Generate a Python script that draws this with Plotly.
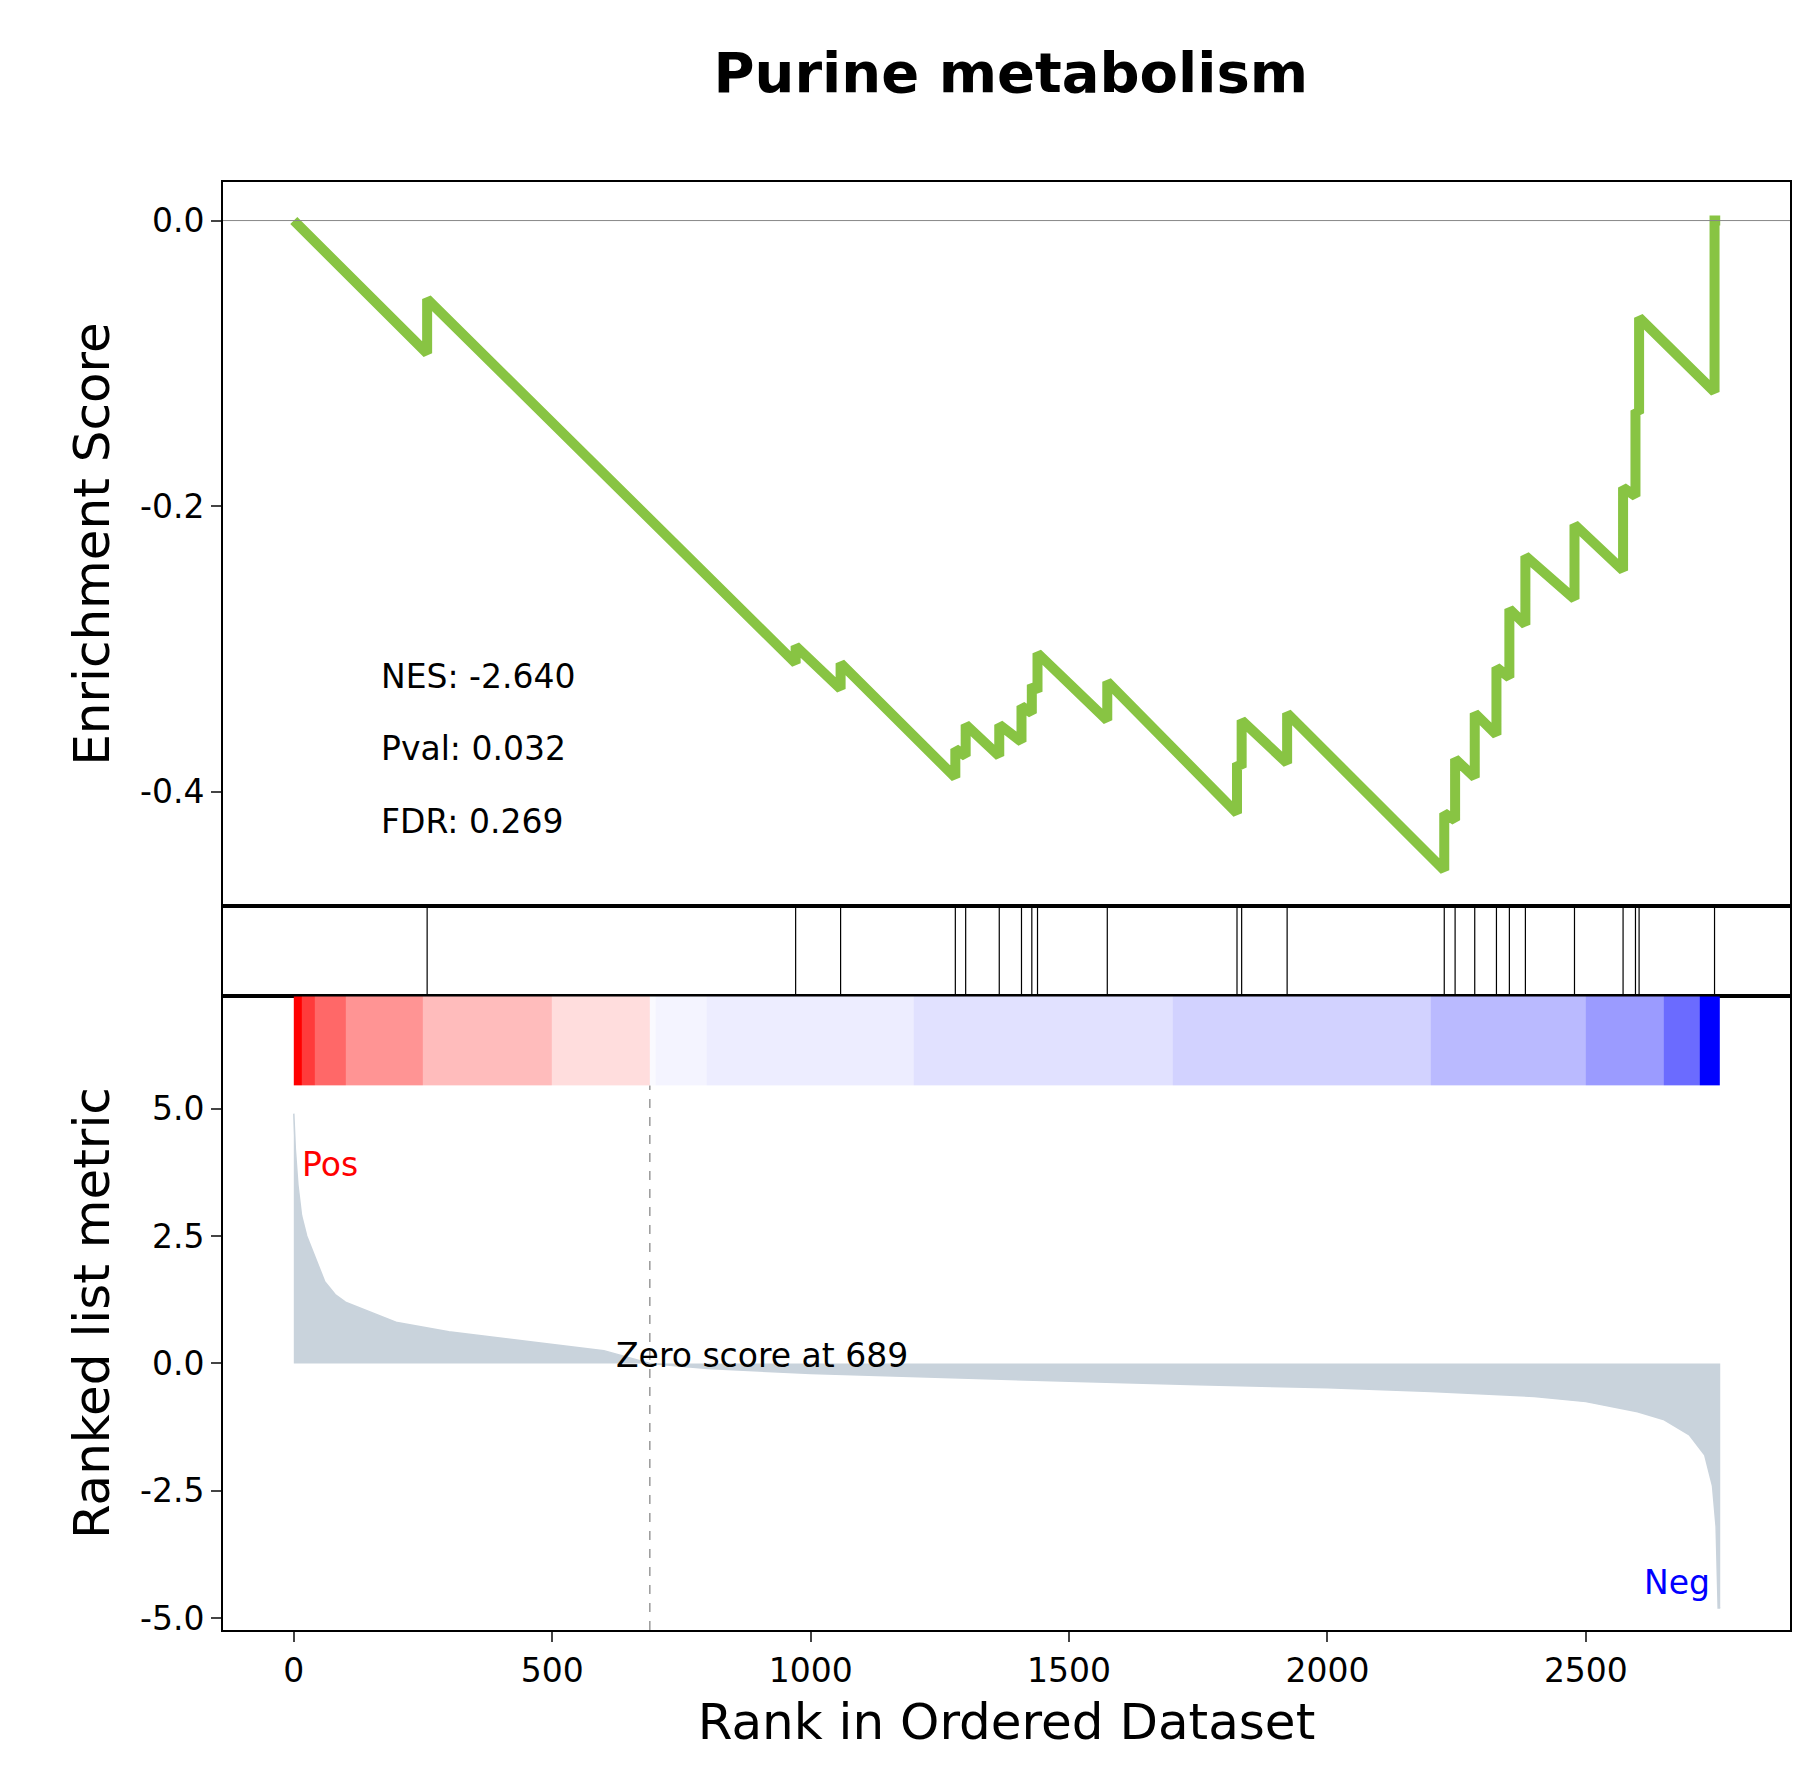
import plotly.graph_objects as go
from plotly.subplots import make_subplots

# running enrichment score (rank, ES)
es_rank = [0, 258, 258, 971, 971, 1058, 1058, 1280, 1280, 1300, 1300, 1365, 1365, 1408, 1408,
           1428, 1428, 1439, 1439, 1574, 1574, 1825, 1825, 1834, 1834, 1922, 1922, 2226, 2226,
           2247, 2247, 2285, 2285, 2327, 2327, 2352, 2352, 2383, 2383, 2478, 2478, 2572, 2572,
           2596, 2596, 2603, 2603, 2749, 2749, 2760]
es_val = [0, -0.093, -0.055, -0.31, -0.298, -0.328, -0.31, -0.39, -0.37, -0.375, -0.353, -0.375,
          -0.353, -0.365, -0.34, -0.345, -0.325, -0.33, -0.303, -0.35, -0.323, -0.415, -0.38,
          -0.383, -0.35, -0.38, -0.345, -0.455, -0.415, -0.42, -0.377, -0.39, -0.345, -0.36,
          -0.313, -0.32, -0.272, -0.283, -0.235, -0.265, -0.213, -0.245, -0.187, -0.193, -0.133,
          -0.135, -0.068, -0.12, 0.0, 0.0]

# gene set hit positions
hits = [258, 971, 1058, 1280, 1300, 1365, 1408, 1428, 1439, 1574, 1825, 1834, 1922, 2226, 2247,
        2285, 2327, 2352, 2383, 2478, 2572, 2596, 2603, 2749]

# ranked list metric
metric_rank = [0, 3, 8, 15, 25, 40, 60, 80, 100, 150, 200, 300, 400, 500, 600, 689, 800, 1000,
               1250, 1500, 1750, 2000, 2200, 2400, 2500, 2600, 2650, 2700, 2730, 2745, 2752, 2756, 2760]
metric_val = [4.9, 4.2, 3.5, 2.9, 2.5, 2.1, 1.6, 1.35, 1.2, 1.0, 0.8, 0.62, 0.5, 0.38, 0.25, 0.0,
              -0.1, -0.2, -0.28, -0.35, -0.42, -0.48, -0.55, -0.65, -0.75, -0.95, -1.1, -1.4,
              -1.8, -2.4, -3.2, -4.8, -4.8]

# colour band edges along the ranked list
band_rank = [0, 15, 40, 100, 250, 500, 689, 700, 800, 1200, 1700, 2200, 2500, 2650, 2720, 2760]

NES, PVAL, FDR = -2.640, 0.032, 0.269
ZERO_AT = 689

fig = make_subplots(rows=3, cols=1, shared_xaxes=True, vertical_spacing=0,
                    row_heights=[0.5, 0.0624, 0.4376])

green = "#88c443"
fig.add_trace(go.Scatter(x=es_rank, y=es_val, mode="lines",
                         line=dict(color=green, width=10), hoverinfo="skip"), row=1, col=1)
fig.add_hline(y=0, line=dict(color="#888888", width=1), row=1, col=1)

hx, hy = [], []
for h in hits:
    hx += [h, h, None]
    hy += [0, 1, None]
fig.add_trace(go.Scatter(x=hx, y=hy, mode="lines", line=dict(color="black", width=1.2)),
              row=2, col=1)

cs = [[0, "#ff0000"], [0.006, "#ff4040"], [0.02, "#ff8080"], [0.06, "#ffb0b0"],
      [0.15, "#ffd2d2"], [0.24, "#fff0f0"], [0.25, "#ffffff"], [0.26, "#f0f0ff"],
      [0.45, "#e0e0ff"], [0.65, "#d0d0ff"], [0.8, "#bcbcff"], [0.9, "#a8a8ff"],
      [0.96, "#8080ff"], [0.985, "#5c5cff"], [1, "#0000ff"]]
fig.add_trace(go.Heatmap(x=band_rank, y=[5.45, 7.2], z=[band_rank[:-1]], zmin=0, zmax=2720,
                         colorscale=cs, showscale=False, hoverinfo="skip"),
              row=3, col=1)
fig.add_trace(go.Scatter(x=metric_rank, y=metric_val, mode="lines", fill="tozeroy",
                         fillcolor="#c9d3dc", line=dict(color="#c9d3dc", width=1.5)),
              row=3, col=1)
fig.add_trace(go.Scatter(x=[ZERO_AT, ZERO_AT], y=[-5.23, 5.45], mode="lines",
                         line=dict(color="#666666", width=1, dash="dash")), row=3, col=1)

font = "DejaVu Sans"
for i, t in enumerate([f"NES: {NES:.3f}", f"Pval: {PVAL:.3f}", f"FDR: {FDR:.3f}"]):
    fig.add_annotation(x=165, y=-0.319 - 0.051 * i, text=t, showarrow=False, xanchor="left",
                       font=dict(size=33, color="black"), xref="x", yref="y")
fig.add_annotation(x=620, y=0.15, text=f"Zero score at {ZERO_AT}", showarrow=False,
                   xanchor="left", font=dict(size=33, color="black"), xref="x3", yref="y3")
fig.add_annotation(x=12, y=3.9, text="Pos", showarrow=False, xanchor="left",
                   font=dict(size=33, color="red"), xref="x3", yref="y3")
fig.add_annotation(x=2745, y=-4.3, text="Neg", showarrow=False, xanchor="right",
                   font=dict(size=33, color="blue"), xref="x3", yref="y3")

ax = dict(showline=True, linecolor="black", linewidth=2, mirror=True, showgrid=False,
          zeroline=False, ticks="outside", ticklen=10, tickwidth=2,
          tickfont=dict(size=33, color="black"))
fig.update_xaxes(range=[-137, 2895], **ax)
fig.update_xaxes(showticklabels=False, ticks="", row=1, col=1)
fig.update_xaxes(showticklabels=False, ticks="", row=2, col=1)
fig.update_xaxes(tickvals=[0, 500, 1000, 1500, 2000, 2500], row=3, col=1,
                 title=dict(text="Rank in Ordered Dataset", font=dict(size=50, color="black")))
fig.update_yaxes(**ax)
fig.update_yaxes(range=[-0.48, 0.027], tickvals=[0, -0.2, -0.4],
                 ticktext=["0.0", "-0.2", "-0.4"], row=1, col=1,
                 title=dict(text="Enrichment Score", font=dict(size=50, color="black")))
fig.update_yaxes(range=[0, 1], showticklabels=False, ticks="", row=2, col=1)
fig.update_yaxes(range=[-5.23, 7.2], tickvals=[5, 2.5, 0, -2.5, -5],
                 ticktext=["5.0", "2.5", "0.0", "-2.5", "-5.0"], row=3, col=1,
                 title=dict(text="Ranked list metric", font=dict(size=50, color="black")))

fig.update_layout(width=1807, height=1786, showlegend=False, plot_bgcolor="white",
                  paper_bgcolor="white", font=dict(family=font, color="black"),
                  margin=dict(l=215, r=25, t=174, b=164),
                  title=dict(text="<b>Purine metabolism</b>", x=0.555, xanchor="center",
                             y=0.975, yanchor="top", font=dict(size=56, color="black")))
fig.write_html("out.html")
